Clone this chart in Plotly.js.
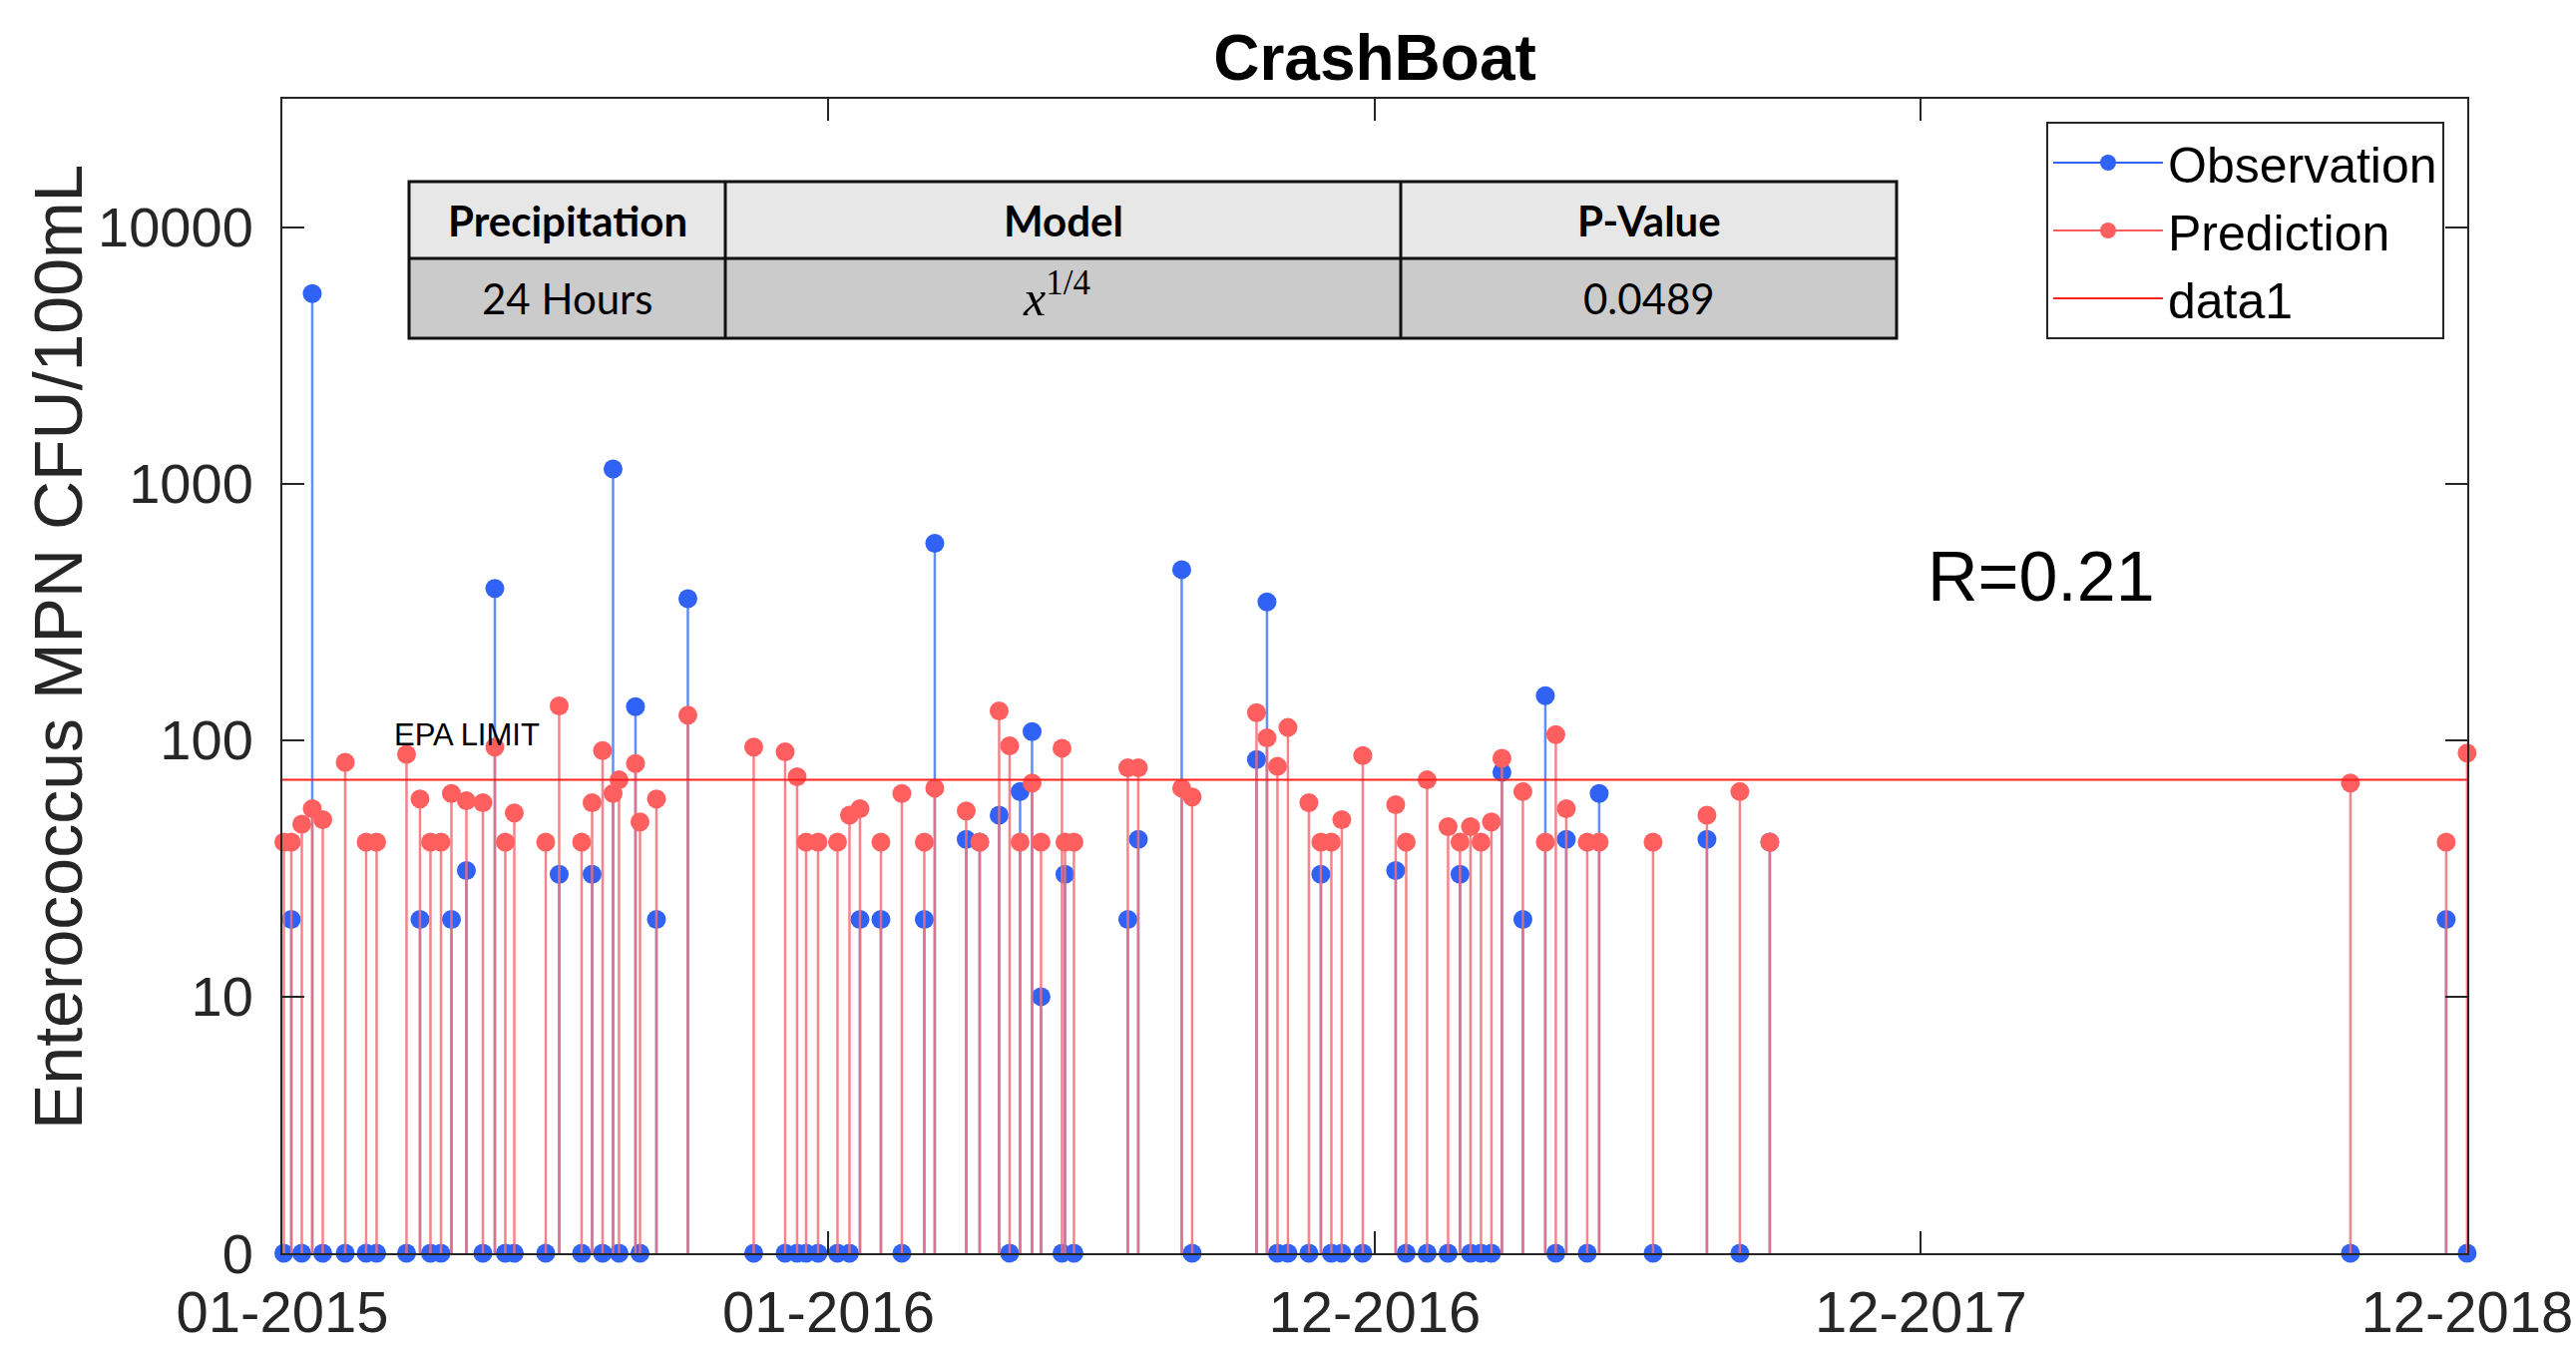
<!DOCTYPE html>
<html>
<head>
<meta charset="utf-8">
<script src="https://cdn.plot.ly/plotly-3.0.1.min.js"></script>
<style>
body { margin: 0; background: #fff; }
#myDiv { width: 2582px; height: 1356px; }
</style>
</head>
<body>
<div id="myDiv"></div>
<script>

/*******************************************************************************************
										Data
*******************************************************************************************/

var sampleDates = [
	'2015-01-02','2015-01-07','2015-01-14','2015-01-21','2015-01-28','2015-02-12','2015-02-26','2015-03-05','2015-03-25','2015-04-03',
	'2015-04-10','2015-04-17','2015-04-24','2015-05-04','2015-05-15','2015-05-23','2015-05-30','2015-06-05','2015-06-26','2015-07-05',
	'2015-07-20','2015-07-27','2015-08-03','2015-08-10','2015-08-14','2015-08-25','2015-08-28','2015-09-08','2015-09-29','2015-11-12',
	'2015-12-03','2015-12-11','2015-12-17','2015-12-25','2016-01-07','2016-01-15','2016-01-22','2016-02-05','2016-02-19','2016-03-05',
	'2016-03-12','2016-04-02','2016-04-11','2016-04-24','2016-05-01','2016-05-08','2016-05-16','2016-05-22','2016-06-05','2016-06-07',
	'2016-06-13','2016-07-19','2016-07-26','2016-08-24','2016-08-31','2016-10-13','2016-10-20','2016-10-27','2016-11-03','2016-11-17',
	'2016-11-25','2016-12-02','2016-12-09','2016-12-23','2017-01-14','2017-01-21','2017-02-04','2017-02-18','2017-02-26','2017-03-05',
	'2017-03-12','2017-03-19','2017-03-26','2017-04-09','2017-04-24','2017-05-01','2017-05-08','2017-05-22','2017-05-30','2017-07-05',
	'2017-08-10','2017-09-01','2017-09-21','2018-10-14','2018-12-17','2018-12-31'
];

var observation = [
	0, 20, 0, 5500, 0, 0, 0, 0, 0, 20,
	0, 0, 20, 31, 0, 390, 0, 0, 0, 30,
	0, 30, 0, 1140, 0, 135, 0, 20, 356, 0,
	0, 0, 0, 0, 0, 0, 20, 20, 0, 20,
	585, 41, 40, 51, 0, 63, 108, 10, 0, 30,
	0, 20, 41, 462, 0, 84, 346, 0, 0, 0,
	30, 0, 0, 0, 31, 0, 0, 0, 30, 0,
	0, 0, 75, 20, 149, 0, 41, 0, 62, 0,
	41, 0, 40, 0, 20, 0
];

var prediction = [
	40, 40, 47, 54, 49, 82, 40, 40, 88, 59,
	40, 40, 62, 58, 57, 94, 40, 52, 40, 136,
	40, 57, 91, 62, 70, 81, 48, 59, 125, 94,
	90, 72, 40, 40, 40, 51, 54, 40, 62, 40,
	65, 53, 40, 130, 95, 40, 68, 40, 93, 40,
	40, 78, 78, 65, 60, 128, 102, 79, 112, 57,
	40, 40, 49, 87, 56, 40, 70, 46, 40, 46,
	40, 48, 85, 63, 40, 105, 54, 40, 40, 40,
	51, 63, 40, 68, 40, 89
];

var epaLimit = 70;
var rValue = 'R=0.21';

var xTickVals = ['2015-01-01', '2016-01-01', '2016-12-31', '2017-12-31', '2018-12-31'];
var xTickText = ['01-2015', '01-2016', '12-2016', '12-2017', '12-2018'];
var yTickVals = [1, 10, 100, 1000, 10000];
var yTickText = ['0', '10', '100', '1000', '10000'];

var tableHeader = ['Precipitation', 'Model', 'P-Value'];
var tableRow = ['24 Hours', '<i>x</i><sup>1/4</sup>', '0.0489'];


/*******************************************************************************************
										Layout helpers
*******************************************************************************************/

var M = {l: 283, r: 109, t: 99, b: 100};
var W = 2582, H = 1356;
var plotW = W - M.l - M.r;
var plotH = H - M.t - M.b;

function px_x(px){ return (px - M.l) / plotW; }
function px_y(py){ return (M.t + plotH - py) / plotH; }

// zero counts sit on the bottom of the log axis (labelled "0")
var baseValue = 1;
function to_axis(v){ return v > 0 ? v : baseValue; }

var BLUE = '#2f62f5';
var RED = '#ff5f5f';
var FONT = 'Liberation Sans, Arial, sans-serif';

// a couple of hours past the last tick so the 12-2018 label is kept
var xStart = xTickVals[0];
var xEnd = xTickVals[xTickVals.length - 1] + ' 02:00';


/************************ stems: vertical segments split with nulls *************************/
function stem_trace(dates, values, color){
	var xs = [];
	var ys = [];
	for (var i = 0; i < dates.length; i++) {
		xs.push(dates[i], dates[i], null);
		ys.push(baseValue, to_axis(values[i]), null);
	}
	return {
		x: xs, y: ys, type: 'scatter', mode: 'lines',
		line: {color: color, width: 2.5},
		showlegend: false, hoverinfo: 'skip'
	};
}

function marker_trace(dates, values, color, name){
	return {
		x: dates, y: values.map(to_axis), type: 'scatter', mode: 'markers',
		name: name, marker: {color: color, size: 19},
		cliponaxis: false, showlegend: false
	};
}

function legend_trace(name, color, rank){
	// only here so the legend shows line + dot like the stem plot
	return {
		x: [null], y: [null], type: 'scatter', mode: 'lines+markers', name: name,
		line: {color: color, width: 2}, marker: {color: color, size: 19},
		legendrank: rank
	};
}


/************************ table drawn with shapes and annotations *************************/
var colEdges = [410, 727, 1404, 1901];
var rowEdges = [182, 259, 339];

function table_shapes(){
	var s = [];
	var x0 = px_x(colEdges[0]), x1 = px_x(colEdges[colEdges.length - 1]);
	s.push({type: 'rect', xref: 'paper', yref: 'paper', x0: x0, x1: x1,
		y0: px_y(rowEdges[1]), y1: px_y(rowEdges[0]), fillcolor: '#e7e7e7', line: {width: 0}});
	s.push({type: 'rect', xref: 'paper', yref: 'paper', x0: x0, x1: x1,
		y0: px_y(rowEdges[2]), y1: px_y(rowEdges[1]), fillcolor: '#cbcbcb', line: {width: 0}});
	s.push({type: 'rect', xref: 'paper', yref: 'paper', x0: x0, x1: x1,
		y0: px_y(rowEdges[2]), y1: px_y(rowEdges[0]), line: {color: '#111', width: 3}});
	s.push({type: 'line', xref: 'paper', yref: 'paper', x0: x0, x1: x1,
		y0: px_y(rowEdges[1]), y1: px_y(rowEdges[1]), line: {color: '#111', width: 3}});
	for (var i = 1; i < colEdges.length - 1; i++) {
		s.push({type: 'line', xref: 'paper', yref: 'paper', x0: px_x(colEdges[i]), x1: px_x(colEdges[i]),
			y0: px_y(rowEdges[2]), y1: px_y(rowEdges[0]), line: {color: '#111', width: 3}});
	}
	return s;
}

function table_annotations(){
	var a = [];
	for (var i = 0; i < tableHeader.length; i++) {
		var cx = px_x((colEdges[i] + colEdges[i + 1]) / 2);
		a.push({xref: 'paper', yref: 'paper', x: cx, y: px_y((rowEdges[0] + rowEdges[1]) / 2),
			xanchor: 'center', yanchor: 'middle',
			text: '<b>' + tableHeader[i] + '</b>', showarrow: false,
			font: {family: 'Lato, sans-serif', size: 42, color: '#000'}});
		var isMath = tableRow[i].indexOf('<i>') >= 0;
		a.push({xref: 'paper', yref: 'paper', x: cx + (isMath ? -0.003 : 0), y: px_y((rowEdges[1] + rowEdges[2]) / 2 + (isMath ? -4 : 0)),
			xanchor: 'center', yanchor: 'middle',
			text: tableRow[i], showarrow: false,
			font: {family: isMath ? 'Liberation Serif, serif' : 'Lato, sans-serif', size: isMath ? 50 : 42, color: '#000'}});
	}
	return a;
}


/************************ plot the data on the display *************************/
function plot_stems(){
	var data = [
		stem_trace(sampleDates, observation, 'rgba(80,130,245,0.9)'),
		marker_trace(sampleDates, observation, BLUE, 'Observation'),
		stem_trace(sampleDates, prediction, 'rgba(242,110,118,0.85)'),
		marker_trace(sampleDates, prediction, RED, 'Prediction'),
		{
			x: [xStart, xEnd], y: [epaLimit, epaLimit],
			type: 'scatter', mode: 'lines', name: 'data1',
			line: {color: '#ff2020', width: 2}, legendrank: 3
		},
		legend_trace('Observation', BLUE, 1),
		legend_trace('Prediction', RED, 2)
	];

	var axisStyle = {
		showline: true, linecolor: '#262626', linewidth: 2, mirror: 'ticks',
		ticks: 'inside', ticklen: 22, tickwidth: 2, tickcolor: '#262626',
		showgrid: false, zeroline: false,
		tickfont: {family: FONT, size: 56, color: '#262626'}
	};

	var layout = {
		width: W, height: H,
		margin: M,
		paper_bgcolor: '#fff', plot_bgcolor: '#fff',
		font: {family: FONT, color: '#000'},
		title: {text: '<b>CrashBoat</b>', font: {family: FONT, size: 64, color: '#000'},
			x: 0.5, xref: 'paper', xanchor: 'center', y: 1 - 58 / H, yanchor: 'middle'},
		xaxis: Object.assign({}, axisStyle, {
			type: 'date', range: [xStart, xEnd],
			tickmode: 'array', tickvals: xTickVals, ticktext: xTickText,
			tickfont: {family: FONT, size: 58, color: '#262626'},
			ticklabelstandoff: 7, ticklabeloverflow: 'allow'
		}),
		yaxis: Object.assign({}, axisStyle, {
			type: 'log', range: [0, 4.5],
			tickmode: 'array', tickvals: yTickVals, ticktext: yTickText,
			ticklabelstandoff: 16
		}),
		showlegend: true,
		legend: {
			x: px_x(2450), xanchor: 'right', y: px_y(122), yanchor: 'top',
			bgcolor: '#fff', bordercolor: '#262626', borderwidth: 2,
			font: {family: FONT, size: 50, color: '#000'},
			itemwidth: 110, tracegroupgap: 0
		},
		shapes: table_shapes(),
		annotations: table_annotations().concat([
			{xref: 'paper', yref: 'paper', x: px_x(393), y: px_y(736), xanchor: 'left', yanchor: 'middle',
				text: 'EPA LIMIT', showarrow: false, font: {family: FONT, size: 31, color: '#000'}},
			{xref: 'paper', yref: 'paper', x: px_x(2046), y: px_y(578), xanchor: 'center', yanchor: 'middle',
				text: rValue, showarrow: false, font: {family: FONT, size: 70, color: '#000'}},
			// y axis title, placed by hand so it sits where the original does
			{xref: 'paper', yref: 'paper', x: px_x(58), y: px_y(649), xanchor: 'center', yanchor: 'middle',
				textangle: -90, text: 'Enterococcus MPN CFU/100mL', showarrow: false,
				font: {family: FONT, size: 68, color: '#262626'}}
		])
	};

	var config = {responsive: false, displayModeBar: false, staticPlot: true};
	Plotly.newPlot('myDiv', data, layout, config);
}

plot_stems();
</script>
</body>
</html>
